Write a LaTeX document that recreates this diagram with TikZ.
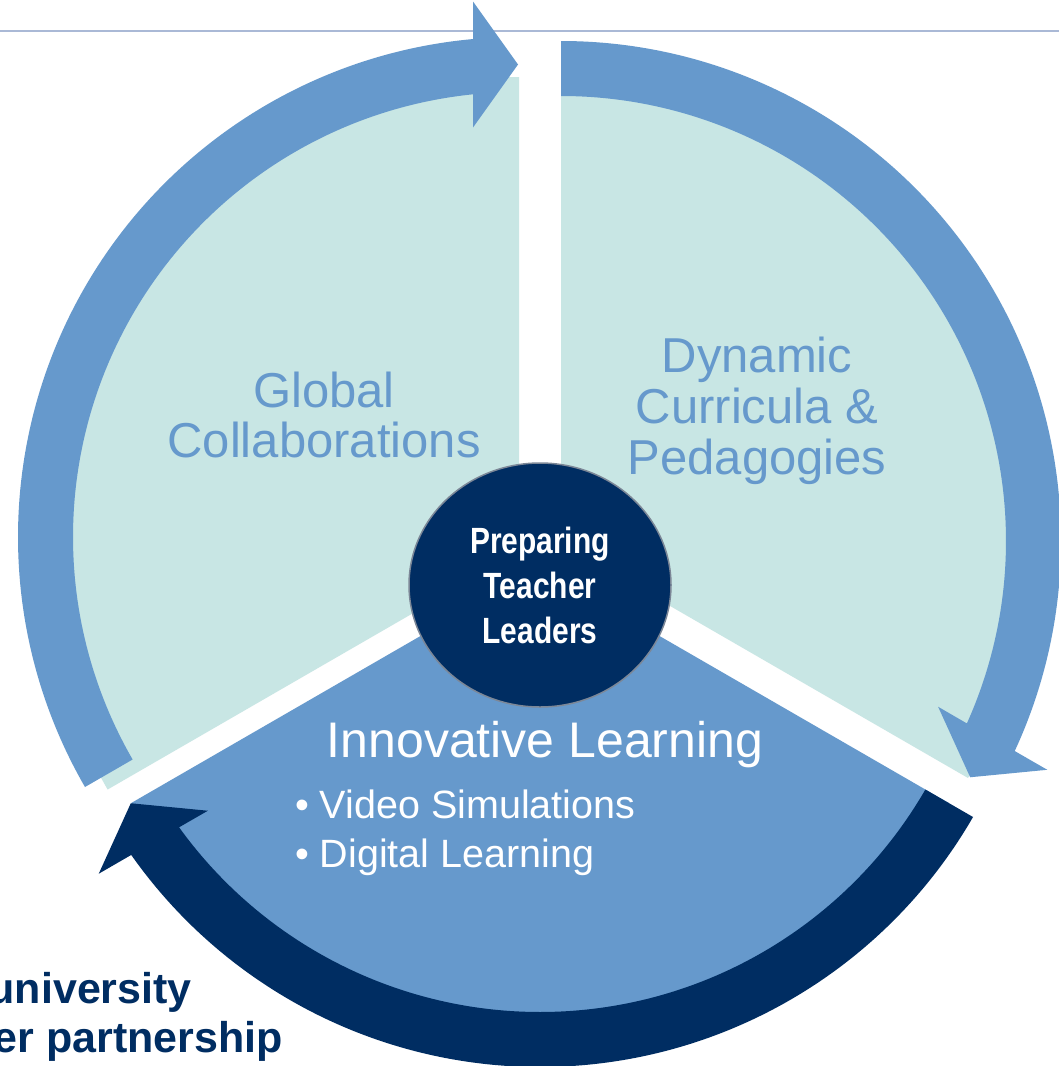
\documentclass[tikz,border=0pt]{standalone}
\usepackage{fontspec}
\usetikzlibrary{shapes.geometric}
\setmainfont{Liberation Sans}
\newfontfamily\narrowfont[FakeStretch=0.82]{Liberation Sans}
\definecolor{lightteal}{HTML}{C8E6E4}
\definecolor{midblue}{HTML}{6699CC}
\definecolor{navy}{HTML}{002D62}
\definecolor{rulecol}{HTML}{AAB9D6}
\definecolor{ringgray}{HTML}{7C8797}
\tikzset{
  lightsector/.style={fill=lightteal},
  midsector/.style={fill=midblue},
  cyclearrow/.style={fill=midblue},
  darkarrow/.style={fill=navy},
  sectortext/.style={text=midblue, font=\fontsize{49}{50}\selectfont, inner sep=0pt, anchor=base},
  whitetitle/.style={text=white, font=\fontsize{50}{52}\selectfont, inner sep=0pt, anchor=base},
  bullettext/.style={text=white, font=\fontsize{39.5}{44}\selectfont, inner sep=0pt, anchor=base west},
  hubtext/.style={text=white, font=\narrowfont\bfseries\fontsize{36.5}{40}\selectfont, inner sep=0pt, anchor=base},
  cornertext/.style={text=navy, font=\bfseries\fontsize{43}{46}\selectfont, inner sep=0pt, anchor=base east},
}
\begin{document}
\begin{tikzpicture}[x=1pt,y=1pt]
\useasboundingbox (0,0) rectangle (1059,-1066);
\clip (0,0) rectangle (1059,-1066);
\fill[white] (0,0) rectangle (1059,-1066);
% top rule
\draw[rulecol, line width=2.5pt] (0,-31) -- (1059,-31);
% sectors
\fill[lightsector] (519,-552) -- ++(90:475) arc[start angle=90, end angle=210, radius=475] -- cycle;
\fill[lightsector] (561,-543) -- ++(-30:470) arc[start angle=-30, end angle=90, radius=470] -- cycle;
\fill[midsector] (540,-567) -- ++(210:472) arc[start angle=210, end angle=330, radius=472] -- cycle;
% left arrow
\begin{scope}[shift={(518,-537)}]
\fill[cyclearrow] (210:500) arc[start angle=210, end angle=95.16, radius=500]
  -- (-45,535.5) -- (0,472.5) -- (-45,409.5) -- (95.80:445)
  arc[start angle=95.80, end angle=210, radius=445] -- cycle;
\end{scope}
% right arrow
\begin{scope}[shift={(561,-541)}, rotate=-120]
\fill[cyclearrow] (210:500) arc[start angle=210, end angle=95.16, radius=500]
  -- (-45,535.5) -- (0,472.5) -- (-45,409.5) -- (95.80:445)
  arc[start angle=95.80, end angle=210, radius=445] -- cycle;
\end{scope}
% bottom dark arrow
\begin{scope}[shift={(540,-567)}, rotate=-240]
\fill[darkarrow] (210:500) arc[start angle=210, end angle=95.16, radius=500]
  -- (-45,535.5) -- (0,472.5) -- (-45,409.5) -- (95.80:445)
  arc[start angle=95.80, end angle=210, radius=445] -- cycle;
\end{scope}
% hub
\node[draw=ringgray, line width=1.5pt, fill=navy, ellipse, minimum width=262pt, minimum height=244pt, inner sep=0pt] (hub) at (540,-585) {};
\node[hubtext] (hub1) at (540,-553) {Preparing};
\node[hubtext] (hub2) at (540,-598) {Teacher};
\node[hubtext] (hub3) at (540,-643) {Leaders};
% sector texts
\node[sectortext] (gc1) at (324,-407) {Global};
\node[sectortext] (gc2) at (324,-457) {Collaborations};
\node[sectortext] (dc1) at (757,-372) {Dynamic};
\node[sectortext] (dc2) at (757,-423) {Curricula \&};
\node[sectortext] (dc3) at (757,-474) {Pedagogies};
\node[whitetitle] (il) at (545,-757) {Innovative Learning};
\node[bullettext] (b1) at (295,-818) {• Video Simulations};
\node[bullettext] (b2) at (295,-867) {• Digital Learning};
% corner text (cut at the left edge, as in the reference)
\node[cornertext] (ut1) at (192,-1003) {university};
\node[cornertext] (ut2) at (283,-1052) {er partnership};
\end{tikzpicture}
\end{document}
